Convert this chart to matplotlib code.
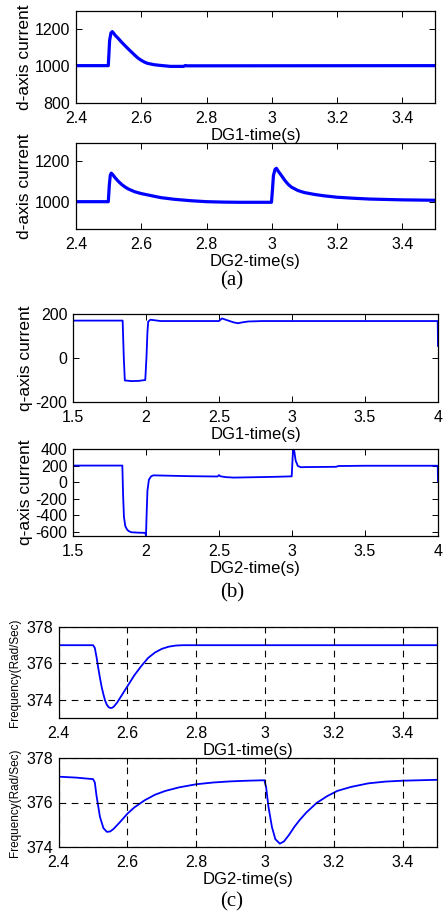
import matplotlib
matplotlib.use("Agg")
import matplotlib.pyplot as plt

plt.rcParams['font.family'] = ['Liberation Sans', 'DejaVu Sans']

# ---- d-axis current, DG1 ----
t_d1 = [2.40, 2.499, 2.503, 2.507, 2.511, 2.515, 2.52, 2.53, 2.54, 2.55, 2.56, 2.57,
        2.58, 2.59, 2.60, 2.61, 2.62, 2.64, 2.66, 2.69, 2.73, 2.735, 2.74, 3.50]
v_d1 = [1003, 1003, 1140, 1180, 1188, 1180, 1168, 1150, 1130, 1112, 1094, 1077,
        1060, 1044, 1032, 1022, 1015, 1008, 1004, 999, 999, 1004, 1002, 1003]

# ---- d-axis current, DG2 ----
t_d2 = [2.40, 2.499, 2.502, 2.505, 2.508, 2.512, 2.52, 2.53, 2.54, 2.55, 2.56, 2.58,
        2.60, 2.63, 2.66, 2.70, 2.75, 2.80, 2.85, 2.90, 2.95, 2.999, 3.002, 3.005,
        3.010, 3.014, 3.02, 3.03, 3.04, 3.05, 3.06, 3.08, 3.10, 3.13, 3.16, 3.20,
        3.25, 3.30, 3.40, 3.50]
v_d2 = [1000, 1000, 1080, 1130, 1141, 1135, 1118, 1100, 1085, 1073, 1063, 1049,
        1040, 1030, 1020, 1012, 1005, 1000, 998, 997, 997, 997, 1060, 1130,
        1160, 1165, 1150, 1128, 1105, 1086, 1072, 1055, 1045, 1036, 1029, 1022,
        1017, 1013, 1009, 1007]

# ---- q-axis current, DG1 ----
t_q1 = [1.50, 1.840, 1.848, 1.855, 1.90, 1.95, 1.995, 2.003, 2.010, 2.015, 2.03,
        2.10, 2.40, 2.50, 2.52, 2.55, 2.60, 2.63, 2.66, 2.70, 2.80, 3.50, 3.998, 4.00]
v_q1 = [170, 170, 0, -102, -105, -104, -100, 0, 120, 165, 174,
        168, 168, 168, 180, 173, 162, 158, 162, 166, 168, 168, 168, 55]

# ---- q-axis current, DG2 ----
t_q2 = [1.50, 1.838, 1.843, 1.849, 1.858, 1.868, 1.88, 1.90, 1.95, 1.995, 2.000,
        2.004, 2.010, 2.020, 2.035, 2.05, 2.10, 2.30, 2.49, 2.50, 2.51, 2.55, 2.60,
        2.70, 2.90, 2.998, 3.003, 3.008, 3.015, 3.025, 3.04, 3.06, 3.10, 3.30, 3.32,
        3.35, 3.50, 3.998, 4.00]
v_q2 = [200, 200, -150, -420, -530, -565, -590, -605, -610, -612, -645,
        -400, -100, 30, 70, 82, 80, 72, 68, 85, 70, 60, 55,
        58, 65, 70, 250, 420, 380, 260, 195, 180, 182, 185, 195,
        195, 198, 198, 10]

# ---- frequency, DG1 ----
t_f1 = [2.40, 2.50, 2.505, 2.51, 2.515, 2.52, 2.525, 2.53, 2.535, 2.54, 2.545, 2.55,
        2.555, 2.56, 2.57, 2.58, 2.59, 2.60, 2.62, 2.64, 2.66, 2.68, 2.70, 2.72,
        2.74, 2.76, 3.50]
v_f1 = [377.0, 377.0, 376.85, 376.35, 375.75, 375.2, 374.7, 374.3, 373.95, 373.73,
        373.6, 373.55, 373.56, 373.62, 373.85, 374.15, 374.45, 374.75, 375.35,
        375.85, 376.3, 376.6, 376.8, 376.92, 376.98, 377.0, 377.0]

# ---- frequency, DG2 ----
t_f2 = [2.40, 2.45, 2.50, 2.505, 2.51, 2.52, 2.53, 2.54, 2.55, 2.56, 2.58, 2.60,
        2.62, 2.65, 2.68, 2.71, 2.75, 2.80, 2.85, 2.90, 2.95, 2.998, 3.003, 3.01,
        3.02, 3.03, 3.043, 3.055, 3.07, 3.085, 3.10, 3.12, 3.15, 3.18, 3.21, 3.25,
        3.30, 3.35, 3.40, 3.50]
v_f2 = [377.16, 377.12, 377.05, 376.9, 376.3, 375.35, 374.85, 374.68, 374.7, 374.82,
        375.15, 375.5, 375.78, 376.1, 376.35, 376.52, 376.68, 376.82, 376.9, 376.95,
        376.98, 377.0, 376.7, 375.8, 374.9, 374.35, 374.15, 374.25, 374.55, 374.9,
        375.2, 375.55, 375.98, 376.28, 376.52, 376.7, 376.86, 376.94, 376.98, 377.02]

xt_a = [2.4, 2.6, 2.8, 3.0, 3.2, 3.4]
xl_a = ['2.4', '2.6', '2.8', '3', '3.2', '3.4']
xt_b = [1.5, 2.0, 2.5, 3.0, 3.5, 4.0]
xl_b = ['1.5', '2', '2.5', '3', '3.5', '4']

W, H = 446, 915
fig = plt.figure(figsize=(W / 100, H / 100), dpi=100)


def add_axes(x0, x1, y0, y1):
    ax = fig.add_axes([x0 / W, 1 - y1 / H, (x1 - x0) / W, (y1 - y0) / H])
    ax.patch.set_alpha(0)
    return ax


def style(ax, xticks, xlabels, yticks, xlim, ylim, xlabel, ylabel, ylsize=12.5, ylpad=2):
    ax.set_xlim(*xlim)
    ax.set_ylim(*ylim)
    ax.set_xticks(xticks)
    ax.set_xticklabels(xlabels)
    ax.set_yticks(yticks)
    ax.set_yticklabels([str(v) for v in yticks])
    ax.tick_params(direction='in', top=True, right=True, length=4, width=0.7,
                   labelsize=11.5)
    ax.tick_params(axis='x', pad=6)
    ax.tick_params(axis='y', pad=4)
    for s in ax.spines.values():
        s.set_linewidth(0.9)
    ax.set_xlabel(xlabel, fontsize=12, labelpad=1.5)
    ax.set_ylabel(ylabel, fontsize=ylsize, labelpad=ylpad)


blue = '#0000ff'

ax1 = add_axes(76, 435, 11, 103)
ax1.plot(t_d1, v_d1, color=blue, lw=2.3)
style(ax1, xt_a, xl_a, [800, 1000, 1200], (2.4, 3.5), (800, 1300),
      'DG1-time(s)', 'd-axis current')

ax2 = add_axes(76, 435, 143, 229)
ax2.plot(t_d2, v_d2, color=blue, lw=2.3)
style(ax2, xt_a, xl_a, [1000, 1200], (2.4, 3.5), (865, 1290),
      'DG2-time(s)', 'd-axis current')

ax3 = add_axes(73, 438, 314, 402)
ax3.plot(t_q1, v_q1, color=blue, lw=1.3)
style(ax3, xt_b, xl_b, [-200, 0, 200], (1.5, 4.0), (-200, 200),
      'DG1-time(s)', 'q-axis current')

ax4 = add_axes(73, 438, 449, 536)
ax4.plot(t_q2, v_q2, color=blue, lw=1.3)
style(ax4, xt_b, xl_b, [-600, -400, -200, 0, 200, 400], (1.5, 4.0), (-650, 400),
      'DG2-time(s)', 'q-axis current')

ax5 = add_axes(58.7, 437, 627, 718)
ax5.plot(t_f1, v_f1, color=blue, lw=1.3)
style(ax5, xt_a, xl_a, [374, 376, 378], (2.4, 3.5), (373, 378),
      'DG1-time(s)', 'Frequency(Rad/Sec)', ylsize=8.5, ylpad=4)

ax6 = add_axes(58.7, 437, 758, 847)
ax6.plot(t_f2, v_f2, color=blue, lw=1.3)
style(ax6, xt_a, xl_a, [374, 376, 378], (2.4, 3.5), (374, 378),
      'DG2-time(s)', 'Frequency(Rad/Sec)', ylsize=8.5, ylpad=4)

for ax in (ax5, ax6):
    ax.grid(True, color='black', linestyle=(0, (6, 5)), linewidth=0.8)
    ax.set_axisbelow(False)

for txt, y in (('(a)', 281), ('(b)', 593), ('(c)', 902)):
    fig.text(232 / W, 1 - y / H, txt, ha='center', va='center',
             fontsize=15, family=['Liberation Serif', 'DejaVu Serif'])

fig.savefig('out.png', dpi=100)
